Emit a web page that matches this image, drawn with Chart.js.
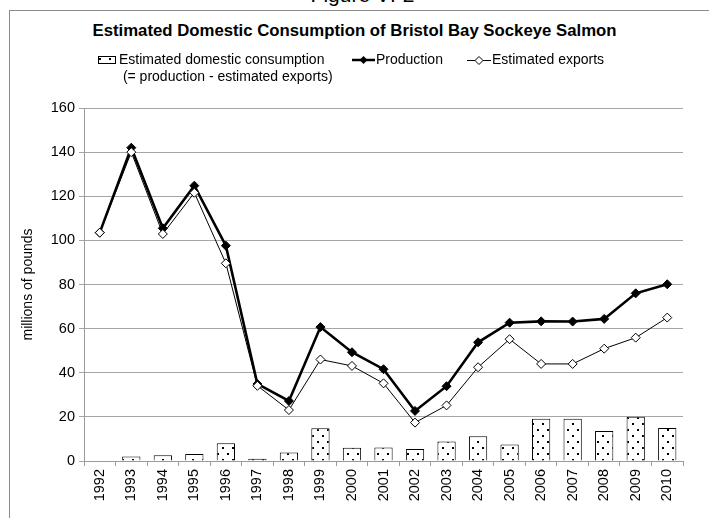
<!DOCTYPE html>
<html>
<head>
<meta charset="utf-8">
<script src="https://cdn.jsdelivr.net/npm/chart.js@4/dist/chart.umd.min.js"></script>
<style>
  html, body { margin: 0; padding: 0; background: #fff; }
  body { width: 709px; height: 518px; position: relative; overflow: hidden; font-family: "Liberation Sans", Arial, sans-serif; }
  #wrap { position: absolute; left: 0; top: 0; width: 709px; height: 518px; }
  #frame { position: absolute; left: 9px; top: 10px; width: 800px; height: 600px; border-left: 1px solid #8c8c8c; border-top: 1px solid #8c8c8c; }
  #fig { position: absolute; left: 0; width: 709px; top: -17px; text-align: center; font-size: 21px; color: #000; padding-left: 16px; box-sizing: border-box; }
  #title { position: absolute; left: 0; width: 709px; top: 21px; text-align: center; font-size: 16.75px; font-weight: bold; color: #000; }
  .leg { position: absolute; font-size: 14px; color: #000; white-space: nowrap; line-height: 17px; }
  .ico { position: absolute; }
</style>
</head>
<body>
<div id="frame"></div>
<div id="fig">Figure VI-2</div>
<div id="title">Estimated Domestic Consumption of Bristol Bay Sockeye Salmon</div>
<div id="wrap"><canvas id="c" width="709" height="518"></canvas></div>
<canvas class="ico" id="i1" width="20" height="10" style="left:97px;top:55px"></canvas>
<div class="leg" style="left:119px;top:51px">Estimated domestic consumption<br>&nbsp;(= production - estimated exports)</div>
<canvas class="ico" id="i2" width="23" height="12" style="left:352px;top:54px"></canvas>
<div class="leg" style="left:376px;top:51px">Production</div>
<canvas class="ico" id="i3" width="24" height="12" style="left:467px;top:54px"></canvas>
<div class="leg" style="left:492px;top:51px">Estimated exports</div>
<script>
const years = ["1992","1993","1994","1995","1996","1997","1998","1999","2000","2001","2002","2003","2004","2005","2006","2007","2008","2009","2010"];
const production = [103.5,142.0,105.5,124.8,97.6,34.9,27.2,60.7,49.3,41.6,22.7,33.9,53.8,62.7,63.3,63.2,64.4,76.0,80.1];
const exportsEst = [103.5,140.0,102.9,121.6,89.6,34.1,23.1,46.0,43.1,35.2,17.4,25.2,42.5,55.2,44.0,44.0,50.9,55.9,65.0];
const domestic = [0.0,2.0,2.6,3.2,8.0,1.0,3.9,14.8,6.0,6.1,5.4,8.8,11.2,7.5,19.2,19.1,13.6,20.1,15.0];
const yTicks = [0,20,40,60,80,100,120,140,160];

function makePattern() {
  const p = document.createElement('canvas');
  p.width = 10; p.height = 12;
  const g = p.getContext('2d');
  g.fillStyle = '#fff'; g.fillRect(0,0,10,12);
  g.fillStyle = '#000';
  g.fillRect(2,3,2,2);
  g.fillRect(7,9,2,2);
  return document.getElementById('c').getContext('2d').createPattern(p, 'repeat');
}
const pattern = makePattern();

// legend icons
(function(){
  const a = document.getElementById('i1').getContext('2d');
  a.fillStyle = pattern; a.fillRect(1,1,18,8);
  a.strokeStyle = '#000'; a.lineWidth = 1; a.strokeRect(1.5,1.5,17,7);
  const b = document.getElementById('i2').getContext('2d');
  b.strokeStyle = '#000'; b.lineWidth = 2.5; b.beginPath(); b.moveTo(0,6); b.lineTo(23,6); b.stroke();
  b.fillStyle = '#000'; b.beginPath(); b.moveTo(11.5,2); b.lineTo(15.5,6); b.lineTo(11.5,10); b.lineTo(7.5,6); b.closePath(); b.fill();
  const c = document.getElementById('i3').getContext('2d');
  c.strokeStyle = '#000'; c.lineWidth = 1; c.beginPath(); c.moveTo(0,6.5); c.lineTo(24,6.5); c.stroke();
  c.fillStyle = '#fff'; c.beginPath(); c.moveTo(12,2.5); c.lineTo(16,6.5); c.lineTo(12,10.5); c.lineTo(8,6.5); c.closePath(); c.fill(); c.stroke();
})();

Chart.defaults.font.family = '"Liberation Sans", Arial, sans-serif';
Chart.defaults.color = '#000';

new Chart(document.getElementById('c'), {
  type: 'bar',
  data: {
    labels: years,
    datasets: [
      { type: 'line', label: 'Estimated exports', data: exportsEst, order: 1,
        borderColor: '#000', borderWidth: 1, backgroundColor: '#fff',
        pointStyle: 'rectRot', pointRadius: 4.5, pointBorderWidth: 1, pointBackgroundColor: '#fff', pointBorderColor: '#000', tension: 0 },
      { type: 'line', label: 'Production', data: production, order: 2,
        borderColor: '#000', borderWidth: 2.6, backgroundColor: '#000',
        pointStyle: 'rectRot', pointRadius: 4.5, pointBorderWidth: 1, pointBackgroundColor: '#000', pointBorderColor: '#000', tension: 0 },
      { type: 'bar', label: 'Estimated domestic consumption', data: domestic, order: 3,
        backgroundColor: pattern, borderColor: '#000', borderWidth: 1, borderSkipped: 'bottom',
        categoryPercentage: 1, barPercentage: 0.58 }
    ]
  },
  options: {
    responsive: false,
    animation: false,
    events: [],
    layout: { padding: { left: 0, top: 108, right: 26, bottom: 0 } },
    plugins: { legend: { display: false }, title: { display: false }, tooltip: { enabled: false } },
    scales: {
      x: {
        offset: true,
        grid: { display: true, offset: true, drawOnChartArea: false, drawTicks: true, tickLength: 5, color: '#9a9a9a' },
        border: { display: true, color: '#9a9a9a', width: 1 },
        ticks: { minRotation: 90, maxRotation: 90, autoSkip: false, padding: 3, font: { size: 14.5 }, color: '#000' },
        afterFit: s => { s.height = 57; }
      },
      y: {
        min: 0, max: 160,
        afterBuildTicks: s => { s.ticks = yTicks.map(v => ({ value: v })); },
        grid: { color: '#a6a6a6', lineWidth: 1, drawTicks: true, tickLength: 5 },
        border: { display: true, color: '#9a9a9a', width: 1 },
        ticks: { padding: 4, font: { size: 14.5 }, color: '#000' },
        title: { display: true, text: 'millions of pounds', font: { size: 14 }, color: '#000', padding: { top: 20, bottom: 0 } },
        afterFit: s => { s.width = 84; }
      }
    }
  }
});
</script>
</body>
</html>
